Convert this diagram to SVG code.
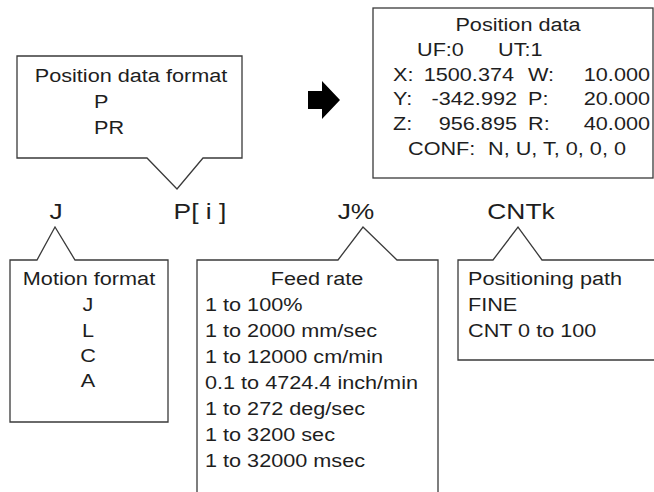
<svg xmlns="http://www.w3.org/2000/svg" width="654" height="492" viewBox="0 0 654 492">
<style>
.box{fill:#fff;stroke:#3a3a3a;stroke-width:1.3;stroke-linejoin:miter}
text{font-family:"Liberation Sans",Arial,sans-serif;fill:#1e1e1e;font-size:19px}
.big{font-size:22px}
.m{text-anchor:middle}
.e{text-anchor:end}
</style>
<rect width="654" height="492" fill="#fff"/>
<g id="connectors">
<polygon points="308,91 322,91 322,81 340,100 322,119 322,109 308,109" fill="#000"/>
</g>
<g id="pdf-format">
<path class="box" d="M17,56 H242 V158 H203 L177,189 L147,158 H17 Z"/>
<text class="m" transform="translate(131,82) scale(1.14,1)">Position data format</text>
<text transform="translate(94,108) scale(1.14,1)">P</text>
<text transform="translate(94,134) scale(1.14,1)">PR</text>
</g>
<g id="position-data">
<rect class="box" x="373" y="8" width="280" height="170"/>
<text class="m" transform="translate(518,31) scale(1.14,1)">Position data</text>
<text transform="translate(417,56) scale(1.14,1)">UF:0</text>
<text transform="translate(498,56) scale(1.14,1)">UT:1</text>
<text transform="translate(393,81) scale(1.14,1)">X:</text>
<text class="e" transform="translate(514,81) scale(1.14,1)">1500.374</text>
<text transform="translate(528,81) scale(1.14,1)">W:</text>
<text class="e" transform="translate(650,81) scale(1.14,1)">10.000</text>
<text transform="translate(393,105) scale(1.14,1)">Y:</text>
<text class="e" transform="translate(517,105) scale(1.14,1)">-342.992</text>
<text transform="translate(528,105) scale(1.14,1)">P:</text>
<text class="e" transform="translate(650,105) scale(1.14,1)">20.000</text>
<text transform="translate(393,130) scale(1.14,1)">Z:</text>
<text class="e" transform="translate(517,130) scale(1.14,1)">956.895</text>
<text transform="translate(528,130) scale(1.14,1)">R:</text>
<text class="e" transform="translate(650,130) scale(1.14,1)">40.000</text>
<text transform="translate(408,155) scale(1.14,1)">CONF:</text>
<text transform="translate(488,155) scale(1.14,1)">N, U, T, 0, 0, 0</text>
</g>
<g id="labels">
<text class="big m" transform="translate(56,219) scale(1.2,1)">J</text>
<text class="big m" transform="translate(200,219) scale(1.2,1)">P[ i ]</text>
<text class="big m" transform="translate(356,219) scale(1.2,1)">J%</text>
<text class="big m" transform="translate(521,219) scale(1.2,1)">CNTk</text>
</g>
<g id="motion-format">
<path class="box" d="M10,260 H37 L55,227 L75,260 H168 V422 H10 Z"/>
<text class="m" transform="translate(89,285) scale(1.14,1)">Motion format</text>
<text class="m" transform="translate(88,311) scale(1.14,1)">J</text>
<text class="m" transform="translate(88,337) scale(1.14,1)">L</text>
<text class="m" transform="translate(88,362) scale(1.14,1)">C</text>
<text class="m" transform="translate(88,387) scale(1.14,1)">A</text>
</g>
<g id="feed-rate">
<path class="box" d="M197,500 V260 H338 L363,227 L397,260 H438 V500"/>
<text class="m" transform="translate(317,285) scale(1.14,1)">Feed rate</text>
<text transform="translate(205,311) scale(1.14,1)">1 to 100%</text>
<text transform="translate(205,337) scale(1.14,1)">1 to 2000 mm/sec</text>
<text transform="translate(205,363) scale(1.14,1)">1 to 12000 cm/min</text>
<text transform="translate(205,389) scale(1.14,1)">0.1 to 4724.4 inch/min</text>
<text transform="translate(205,415) scale(1.14,1)">1 to 272 deg/sec</text>
<text transform="translate(205,441) scale(1.14,1)">1 to 3200 sec</text>
<text transform="translate(205,467) scale(1.14,1)">1 to 32000 msec</text>
</g>
<g id="positioning-path">
<path class="box" d="M660,360 H458 V260 H493 L518,227 L542,260 H660"/>
<text transform="translate(468,285) scale(1.14,1)">Positioning path</text>
<text transform="translate(468,311) scale(1.14,1)">FINE</text>
<text transform="translate(468,337) scale(1.14,1)">CNT 0 to 100</text>
</g>
</svg>
